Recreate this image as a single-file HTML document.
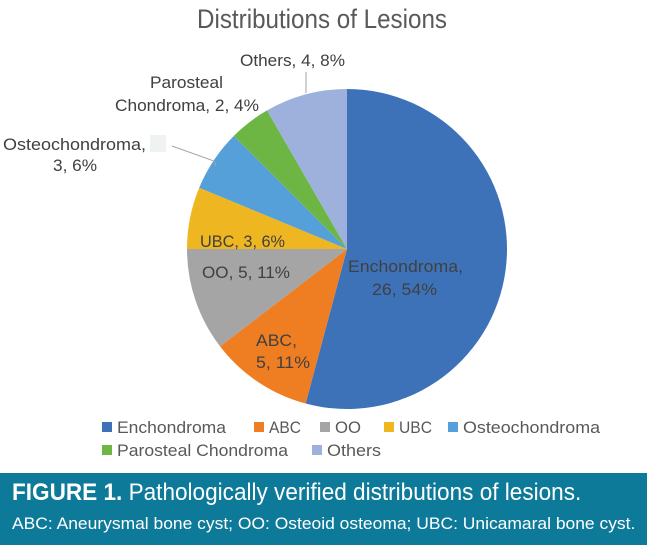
<!DOCTYPE html>
<html><head><meta charset="utf-8"><style>
html,body{margin:0;padding:0;background:#fff;width:647px;height:545px;overflow:hidden;font-family:"Liberation Sans",sans-serif}
svg text{font-family:"Liberation Sans",sans-serif}
#cap{position:absolute;left:0;top:473px;width:647px;height:72px;background:#0e7a99;color:#fff}
</style></head><body>
<svg id="chart" width="647" height="473" style="position:absolute;left:0;top:0">
<text x="197" y="28" font-size="27" fill="#595959" textLength="250" lengthAdjust="spacingAndGlyphs">Distributions of Lesions</text>
<g id="slices"></g>
<g id="labels" font-size="16.5" fill="#404040"></g>
<g id="legend" font-size="17" fill="#595959"></g>
<rect x="150" y="135" width="16" height="17" fill="#eef2f0"/>
</svg>
<div id="cap">
<div style="position:absolute;left:12px;top:6px;font-size:24px;white-space:nowrap;transform:scaleX(0.94);transform-origin:0 0"><b>FIGURE 1.</b> Pathologically verified distributions of lesions.</div>
<div style="position:absolute;left:12px;top:41px;font-size:17px;white-space:nowrap;transform:scaleX(1.026);transform-origin:0 0">ABC: Aneurysmal bone cyst; OO: Osteoid osteoma; UBC: Unicamaral bone cyst.</div>
</div>
<script>
const categories=["Enchondroma","ABC","OO","UBC","Osteochondroma","Parosteal Chondroma","Others"];
const values=[26,5,5,3,3,2,4];
const percents=["54%","11%","11%","6%","6%","4%","8%"];
const colors=["#3d72b9","#ef7d22","#a5a5a5","#eeb721","#55a0d8","#6db644","#9eb0dc"];
const NS="http://www.w3.org/2000/svg";
const cx=347,cy=249,r=160;
const total=values.reduce((a,b)=>a+b,0);
function pt(a,rr){return[cx+rr*Math.sin(a),cy-rr*Math.cos(a)];}
const sg=document.getElementById('slices');
let a0=0;
values.forEach((v,i)=>{
 const a1=a0+v/total*2*Math.PI;
 const p0=pt(a0,r),p1=pt(a1,r);
 const p=document.createElementNS(NS,'path');
 p.setAttribute('d',`M${cx},${cy}L${p0[0]},${p0[1]}A${r},${r} 0 ${a1-a0>Math.PI?1:0} 1 ${p1[0]},${p1[1]}Z`);
 p.setAttribute('fill',colors[i]);
 
 
 sg.appendChild(p);a0=a1;
});
const lg=document.getElementById('labels');
function lbl(lines,i){
 const t=document.createElementNS(NS,'text');
 
 
 lines.forEach(l=>{const s=document.createElementNS(NS,'tspan');s.setAttribute('x',l[1]);s.setAttribute('y',l[2]);s.setAttribute('textLength',l[3]);s.setAttribute('lengthAdjust','spacingAndGlyphs');s.textContent=l[0];t.appendChild(s);});
 lg.appendChild(t);
}
lbl([[categories[0]+',',348,272,115],[values[0]+',  '+percents[0],372,295,65]],0);
lbl([[categories[1]+',',256,346,41],[values[1]+', '+percents[1],256,368,54]],1);
lbl([[categories[2]+', '+values[2]+', '+percents[2],202,278,88]],2);
lbl([[categories[3]+', '+values[3]+', '+percents[3],200,247,85]],3);
lbl([[categories[4]+',',3,150,143],[values[4]+', '+percents[4],53,171,44]],4);
lbl([["Parosteal",150,88,73],["Chondroma, "+values[5]+", "+percents[5],115,111,144]],5);
lbl([[categories[6]+', '+values[6]+', '+percents[6],240,66,105]],6);
[[[172,146],[214,161],[216,166]],[[306,72],[306,93]]].forEach((s,k)=>{
 const l=document.createElementNS(NS,'polyline');
 l.setAttribute('points',s.map(q=>q.join(',')).join(' '));
 l.setAttribute('fill','none');l.setAttribute('stroke','#a6a6a6');
 
 
 lg.appendChild(l);
});
const lgd=document.getElementById('legend');
const lpos=[[102,433,109],[254,433,32],[320,433,26],[384,433,33],[448,433,137],[102,456,171],[312,456,54]];
categories.forEach((c,i)=>{
 const g=document.createElementNS(NS,'g');
 
 
 const rc=document.createElementNS(NS,'rect');
 rc.setAttribute('x',lpos[i][0]);rc.setAttribute('y',lpos[i][1]-11);rc.setAttribute('width',10);rc.setAttribute('height',10);rc.setAttribute('fill',colors[i]);
 const t=document.createElementNS(NS,'text');t.setAttribute('x',lpos[i][0]+15);t.setAttribute('y',lpos[i][1]);
 t.setAttribute('textLength',lpos[i][2]);t.setAttribute('lengthAdjust','spacingAndGlyphs');t.textContent=c;
 g.appendChild(rc);g.appendChild(t);lgd.appendChild(g);
});
</script>
</body></html>
